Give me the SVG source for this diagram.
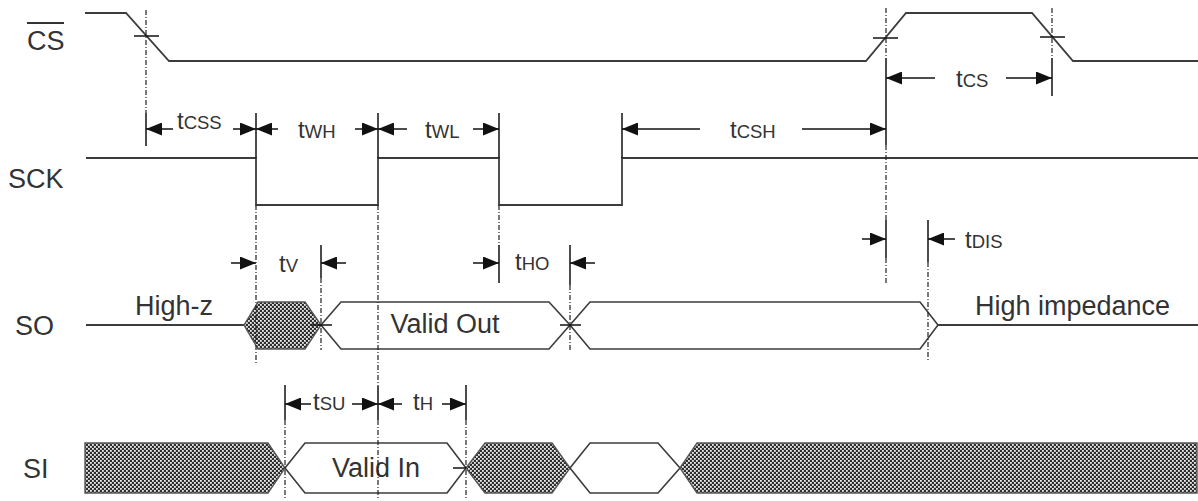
<svg xmlns="http://www.w3.org/2000/svg" width="1198" height="501" viewBox="0 0 1198 501">
<style>
.sig{fill:none;stroke:#3c3c3c;stroke-width:1.8;stroke-linejoin:miter}
.box{fill:#fff;stroke:#3c3c3c;stroke-width:1.6}
.hat{fill:url(#hatch);stroke:#555;stroke-width:1.4}
.dash{stroke:#222;stroke-width:1.2;stroke-dasharray:5,2,1,2;fill:none}
.tick{stroke:#111;stroke-width:1.5;fill:none}
.dim{stroke:#111;stroke-width:1.5;fill:none;marker-end:url(#ah)}
.lbl{font-family:"Liberation Sans",Arial,sans-serif;font-size:27px;fill:#333}
.t{font-family:"Liberation Sans",Arial,sans-serif;font-size:24px;fill:#333}
.s{font-size:18.5px}
</style>
<defs>
<marker id="ah" markerUnits="userSpaceOnUse" markerWidth="17" markerHeight="13" refX="16" refY="6.5" orient="auto"><path d="M0,0 L16,6.5 L0,13 z" fill="#111"/></marker>
<pattern id="hatch" patternUnits="userSpaceOnUse" width="4" height="4"><rect width="4" height="4" fill="#2e2e2e"/><rect x="0" y="0" width="1.8" height="1.8" fill="#eee"/><rect x="2" y="2" width="1.8" height="1.8" fill="#eee"/></pattern>
</defs>
<rect width="1198" height="501" fill="#fff"/>

<g id="labels">
<text class="lbl" x="27" y="50">CS</text>
<line x1="27" y1="23" x2="64" y2="23" stroke="#333" stroke-width="1.8"/>
<text class="lbl" x="8" y="188">SCK</text>
<text class="lbl" x="15" y="335">SO</text>
<text class="lbl" x="23" y="478">SI</text>
</g>

<g id="sig-cs">
<polyline class="sig" points="85,13 126,13 169,61 866,61 906,13 1032,13 1073,61 1198,61"/>
</g>

<g id="sig-sck">
<polyline class="sig" points="86,158 256,158 256,205 378,205 378,158 499,158 499,205 622,205 622,158 1198,158"/>
</g>

<g id="sig-so">
<line class="sig" x1="86" y1="325" x2="244" y2="325"/>
<polygon class="hat" points="244,325 258,302 305,302 321,325 305,349 258,349"/>
<polygon class="box" points="321,325 341,302 549,302 570,325 549,349 341,349"/>
<polygon class="box" points="570,325 590,302 920,302 938,325 920,349 590,349"/>
<line class="sig" x1="938" y1="325" x2="1198" y2="325"/>
<text class="lbl" x="135" y="315">High-z</text>
<text class="lbl" x="445" y="333" text-anchor="middle">Valid Out</text>
<text class="lbl" x="975" y="315">High impedance</text>
</g>

<g id="sig-si">
<polygon class="hat" points="85,443 268,443 285,468 268,493 85,493"/>
<polygon class="box" points="285,468 305,443 447,443 466,468 447,493 305,493"/>
<polygon class="hat" points="466,468 485,443 552,443 570,468 552,493 485,493"/>
<polygon class="box" points="570,468 590,443 658,443 680,468 658,493 590,493"/>
<polygon class="hat" points="680,468 697,443 1197,443 1197,493 697,493"/>
<text class="lbl" x="376" y="477" text-anchor="middle">Valid In</text>
</g>

<g id="connectors">
<line class="dash" x1="146" y1="10" x2="146" y2="113"/>
<line class="tick" x1="146" y1="113" x2="146" y2="146"/>
<line class="tick" x1="256" y1="113" x2="256" y2="158"/>
<line class="dash" x1="256" y1="205" x2="256" y2="363"/>
<line class="tick" x1="378" y1="113" x2="378" y2="158"/>
<line class="dash" x1="378" y1="205" x2="378" y2="386"/>
<line class="tick" x1="378" y1="386" x2="378" y2="420"/>
<line class="dash" x1="378" y1="420" x2="378" y2="500"/>
<line class="tick" x1="499" y1="113" x2="499" y2="158"/>
<line class="dash" x1="499" y1="205" x2="499" y2="245"/>
<line class="tick" x1="499" y1="245" x2="499" y2="283"/>
<line class="tick" x1="622" y1="113" x2="622" y2="158"/>
<line class="dash" x1="886" y1="8" x2="886" y2="58"/>
<line class="tick" x1="886" y1="58" x2="886" y2="145"/>
<line class="dash" x1="886" y1="145" x2="886" y2="220"/>
<line class="tick" x1="886" y1="220" x2="886" y2="258"/>
<line class="dash" x1="886" y1="258" x2="886" y2="283"/>
<line class="dash" x1="1052" y1="8" x2="1052" y2="58"/>
<line class="tick" x1="1052" y1="58" x2="1052" y2="96"/>
<line class="tick" x1="321" y1="245" x2="321" y2="278"/>
<line class="dash" x1="321" y1="278" x2="321" y2="350"/>
<line class="tick" x1="570" y1="245" x2="570" y2="285"/>
<line class="dash" x1="570" y1="285" x2="570" y2="350"/>
<line class="tick" x1="928" y1="220" x2="928" y2="262"/>
<line class="dash" x1="928" y1="262" x2="928" y2="362"/>
<line class="tick" x1="285" y1="385" x2="285" y2="420"/>
<line class="dash" x1="285" y1="420" x2="285" y2="500"/>
<line class="tick" x1="466" y1="385" x2="466" y2="420"/>
<line class="dash" x1="466" y1="420" x2="466" y2="500"/>
<line class="tick" x1="134" y1="36" x2="159" y2="36"/>
<line class="tick" x1="873" y1="38" x2="898" y2="38"/>
<line class="tick" x1="1040" y1="37" x2="1065" y2="37"/>
<line class="tick" x1="311" y1="325" x2="332" y2="325"/>
<line class="tick" x1="560" y1="325" x2="581" y2="325"/>
<line class="tick" x1="453" y1="468" x2="466" y2="468"/>
<line class="dim" x1="173" y1="129" x2="146" y2="129"/>
<line class="dim" x1="233" y1="129" x2="256" y2="129"/>
<line class="dim" x1="278" y1="129" x2="256" y2="129"/>
<line class="dim" x1="355" y1="129" x2="378" y2="129"/>
<line class="dim" x1="407" y1="129" x2="378" y2="129"/>
<line class="dim" x1="473" y1="129" x2="499" y2="129"/>
<line class="dim" x1="700" y1="129" x2="622" y2="129"/>
<line class="dim" x1="802" y1="129" x2="886" y2="129"/>
<line class="dim" x1="935" y1="78" x2="886" y2="78"/>
<line class="dim" x1="1006" y1="78" x2="1052" y2="78"/>
<line class="dim" x1="231" y1="263" x2="256" y2="263"/>
<line class="dim" x1="346" y1="263" x2="321" y2="263"/>
<line class="dim" x1="473" y1="263" x2="499" y2="263"/>
<line class="dim" x1="595" y1="263" x2="570" y2="263"/>
<line class="dim" x1="862" y1="239" x2="886" y2="239"/>
<line class="dim" x1="955" y1="239" x2="928" y2="239"/>
<line class="dim" x1="311" y1="404" x2="285" y2="404"/>
<line class="dim" x1="352" y1="404" x2="378" y2="404"/>
<line class="dim" x1="402" y1="404" x2="378" y2="404"/>
<line class="dim" x1="442" y1="404" x2="466" y2="404"/>
</g>

<g id="timing-labels">
<text class="t" x="177" y="129">t<tspan class="s">CSS</tspan></text>
<text class="t" x="298" y="138">t<tspan class="s">WH</tspan></text>
<text class="t" x="425" y="138">t<tspan class="s">WL</tspan></text>
<text class="t" x="730" y="138">t<tspan class="s">CSH</tspan></text>
<text class="t" x="956" y="87">t<tspan class="s">CS</tspan></text>
<text class="t" x="279" y="272">t<tspan class="s">V</tspan></text>
<text class="t" x="515" y="270">t<tspan class="s">HO</tspan></text>
<text class="t" x="965" y="248">t<tspan class="s">DIS</tspan></text>
<text class="t" x="313" y="410">t<tspan class="s">SU</tspan></text>
<text class="t" x="413" y="410">t<tspan class="s">H</tspan></text>
</g>
</svg>
